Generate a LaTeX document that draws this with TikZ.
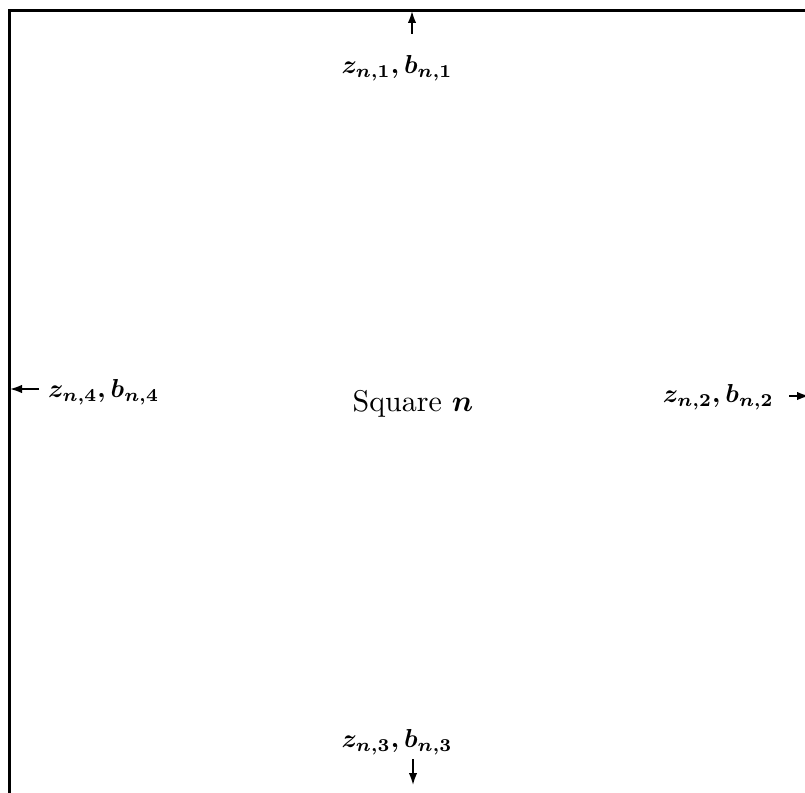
\documentclass[tikz,border=0pt]{standalone}
\usetikzlibrary{arrows.meta}
\newcommand{\bigtxt}[2][3]{\scalebox{#1}{\fontsize{10}{12}\selectfont\boldmath #2}}
\begin{document}
\begin{tikzpicture}[x=1pt,y=-1pt,
  border/.style={line width=2.6pt},
  flow/.style={line width=1.8pt,-{Latex[length=12pt,width=8.5pt]}},
  lbl/.style={inner sep=0pt}]
\useasboundingbox (0,0) rectangle (805,792);
\draw[border] (9.5,10.5) rectangle (809,800);
% labels
\node[lbl] (t) at (397,68) {\bigtxt[2.6]{$z_{n,1}, b_{n,1}$}};
\node[lbl,anchor=west] (l) at (48,392) {\bigtxt[2.6]{$z_{n,4}, b_{n,4}$}};
\node[lbl,anchor=east] (r) at (774,397) {\bigtxt[2.6]{$z_{n,2}, b_{n,2}$}};
\node[lbl] (b) at (397,742) {\bigtxt[2.6]{$z_{n,3}, b_{n,3}$}};
\node[lbl] (c) at (413,404) {\bigtxt{Square $n$}};
% arrow ends
\coordinate (ts) at (412,34);
\coordinate (te) at (412,11);
\coordinate (ls) at (39,389);
\coordinate (le) at (10,389);
\coordinate (rs) at (789,396);
\coordinate (re) at (809,396);
\coordinate (bs) at (413,759);
\coordinate (be) at (413,785);
\draw[flow] (ts) -- (te);
\draw[flow] (ls) -- (le);
\draw[flow] (rs) -- (re);
\draw[flow] (bs) -- (be);
\end{tikzpicture}
\end{document}
